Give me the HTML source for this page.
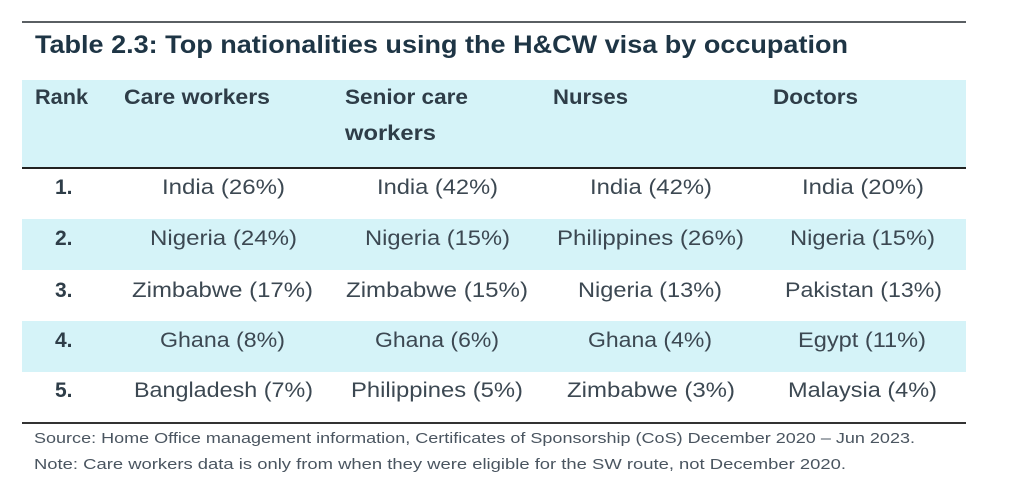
<!DOCTYPE html>
<html><head><meta charset="utf-8"><style>html,body{margin:0;padding:0;background:#fff;}svg{display:block}</style></head>
<body>
<svg width="1020" height="499" viewBox="0 0 1020 499" xmlns="http://www.w3.org/2000/svg" font-family="Liberation Sans, sans-serif">
<rect x="0" y="0" width="1020" height="499" fill="#fff"/>
<rect x="22" y="21" width="944" height="2" fill="#5a5f63"/>
<text x="35" y="53" font-size="25" font-weight="bold" fill="#1e3545" textLength="813" lengthAdjust="spacingAndGlyphs">Table 2.3: Top nationalities using the H&amp;CW visa by occupation</text>
<rect x="22" y="80" width="944" height="87" fill="#d5f3f8"/>
<rect x="22" y="167" width="944" height="2" fill="#222"/>
<rect x="22" y="219" width="944" height="51" fill="#d5f3f8"/>
<rect x="22" y="321" width="944" height="51" fill="#d5f3f8"/>
<rect x="22" y="422" width="944" height="2" fill="#333"/>
<g font-size="21" font-weight="bold" fill="#2e3d48">
<text x="35" y="104" textLength="53" lengthAdjust="spacingAndGlyphs">Rank</text>
<text x="124" y="104" textLength="146" lengthAdjust="spacingAndGlyphs">Care workers</text>
<text x="345" y="104" textLength="123" lengthAdjust="spacingAndGlyphs">Senior care</text>
<text x="345" y="140" textLength="91" lengthAdjust="spacingAndGlyphs">workers</text>
<text x="553" y="104" textLength="75" lengthAdjust="spacingAndGlyphs">Nurses</text>
<text x="773" y="104" textLength="85" lengthAdjust="spacingAndGlyphs">Doctors</text>
<text x="55" y="194">1.</text>
<text x="55" y="245">2.</text>
<text x="55" y="297">3.</text>
<text x="55" y="347">4.</text>
<text x="55" y="397">5.</text>
</g>
<g font-size="21" fill="#3c4852" lengthAdjust="spacingAndGlyphs">
<text x="162" y="194" textLength="123" lengthAdjust="spacingAndGlyphs">India (26%)</text>
<text x="377" y="194" textLength="121" lengthAdjust="spacingAndGlyphs">India (42%)</text>
<text x="590" y="194" textLength="122" lengthAdjust="spacingAndGlyphs">India (42%)</text>
<text x="802" y="194" textLength="122" lengthAdjust="spacingAndGlyphs">India (20%)</text>
<text x="150" y="245" textLength="147" lengthAdjust="spacingAndGlyphs">Nigeria (24%)</text>
<text x="365" y="245" textLength="145" lengthAdjust="spacingAndGlyphs">Nigeria (15%)</text>
<text x="557" y="245" textLength="187" lengthAdjust="spacingAndGlyphs">Philippines (26%)</text>
<text x="790" y="245" textLength="145" lengthAdjust="spacingAndGlyphs">Nigeria (15%)</text>
<text x="132" y="297" textLength="181" lengthAdjust="spacingAndGlyphs">Zimbabwe (17%)</text>
<text x="346" y="297" textLength="182" lengthAdjust="spacingAndGlyphs">Zimbabwe (15%)</text>
<text x="578" y="297" textLength="144" lengthAdjust="spacingAndGlyphs">Nigeria (13%)</text>
<text x="785" y="297" textLength="157" lengthAdjust="spacingAndGlyphs">Pakistan (13%)</text>
<text x="160" y="347" textLength="125" lengthAdjust="spacingAndGlyphs">Ghana (8%)</text>
<text x="375" y="347" textLength="124" lengthAdjust="spacingAndGlyphs">Ghana (6%)</text>
<text x="588" y="347" textLength="124" lengthAdjust="spacingAndGlyphs">Ghana (4%)</text>
<text x="798" y="347" textLength="128" lengthAdjust="spacingAndGlyphs">Egypt (11%)</text>
<text x="134" y="397" textLength="179" lengthAdjust="spacingAndGlyphs">Bangladesh (7%)</text>
<text x="351" y="397" textLength="172" lengthAdjust="spacingAndGlyphs">Philippines (5%)</text>
<text x="567" y="397" textLength="168" lengthAdjust="spacingAndGlyphs">Zimbabwe (3%)</text>
<text x="788" y="397" textLength="149" lengthAdjust="spacingAndGlyphs">Malaysia (4%)</text>
</g>
<g font-size="15" fill="#4a5560">
<text x="34" y="443" textLength="881" lengthAdjust="spacingAndGlyphs">Source: Home Office management information, Certificates of Sponsorship (CoS) December 2020 – Jun 2023.</text>
<text x="34" y="469" textLength="812" lengthAdjust="spacingAndGlyphs">Note: Care workers data is only from when they were eligible for the SW route, not December 2020.</text>
</g>
</svg>
</body></html>
